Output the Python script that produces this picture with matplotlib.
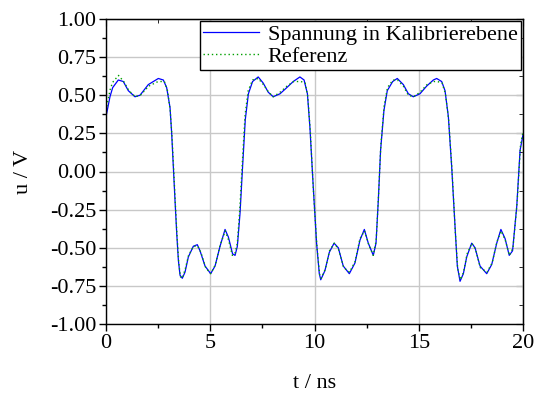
import numpy as np
import matplotlib
matplotlib.use("Agg")
import matplotlib.pyplot as plt
from matplotlib.ticker import MultipleLocator, FormatStrFormatter

plt.rcParams['font.family'] = ['Liberation Serif', 'DejaVu Serif']
plt.rcParams['axes.unicode_minus'] = False

# Spannung in Kalibrierebene (t in ns, u in V)
t_meas = [0.00, 0.06, 0.19, 0.32, 0.59, 0.83, 1.07, 1.39, 1.63, 2.03, 2.51, 2.75,
          2.91, 3.07, 3.15, 3.23, 3.31, 3.39, 3.47, 3.55, 3.66, 3.79, 3.95, 4.19,
          4.38, 4.51, 4.75, 5.02, 5.23, 5.47, 5.71, 5.87, 6.07, 6.19, 6.30, 6.43,
          6.55, 6.68, 6.83, 7.03, 7.30, 7.54, 7.78, 8.02, 8.35, 8.67, 8.98, 9.30,
          9.50, 9.66, 9.78, 9.94, 10.10, 10.23, 10.30, 10.50, 10.71, 10.94, 11.14,
          11.38, 11.67, 11.94, 12.18, 12.39, 12.58, 12.82, 12.95, 13.06, 13.17,
          13.33, 13.49, 13.75, 13.97, 14.26, 14.50, 14.74, 15.06, 15.38, 15.70,
          15.86, 16.10, 16.26, 16.42, 16.58, 16.74, 16.85, 16.98, 17.14, 17.30,
          17.54, 17.70, 17.94, 18.26, 18.50, 18.74, 18.94, 19.14, 19.34, 19.50,
          19.70, 19.86, 20.00]
u_meas = [0.36, 0.40, 0.49, 0.55, 0.60, 0.59, 0.53, 0.49, 0.50, 0.57, 0.61, 0.60,
          0.55, 0.42, 0.25, 0.03, -0.19, -0.40, -0.58, -0.68, -0.70, -0.66, -0.56, -0.49,
          -0.48, -0.52, -0.62, -0.67, -0.62, -0.49, -0.38, -0.43, -0.54, -0.55, -0.49, -0.27,
          0.03, 0.34, 0.51, 0.59, 0.62, 0.58, 0.52, 0.49, 0.51, 0.55, 0.59, 0.62,
          0.60, 0.51, 0.29, -0.10, -0.47, -0.67, -0.71, -0.65, -0.53, -0.47, -0.50,
          -0.62, -0.67, -0.60, -0.45, -0.38, -0.47, -0.55, -0.47, -0.19, 0.14,
          0.40, 0.53, 0.59, 0.61, 0.57, 0.51, 0.49, 0.51, 0.56, 0.60,
          0.61, 0.59, 0.53, 0.36, 0.03, -0.36, -0.62, -0.72, -0.67, -0.56,
          -0.47, -0.50, -0.62, -0.67, -0.61, -0.47, -0.38, -0.44, -0.55, -0.52,
          -0.23, 0.14, 0.24]

# Referenz
t_ref = [0.00, 0.10, 0.22, 0.35, 0.60, 0.85, 1.10, 1.40, 1.65, 2.05, 2.50, 2.80,
         2.95, 3.08, 3.17, 3.25, 3.33, 3.41, 3.49, 3.57, 3.66, 3.80, 3.96, 4.20,
         4.40, 4.55, 4.78, 5.02, 5.25, 5.48, 5.72, 5.88, 6.06, 6.18, 6.30, 6.42,
         6.54, 6.67, 6.82, 7.03, 7.30, 7.55, 7.80, 8.02, 8.35, 8.68, 9.00, 9.35,
         9.55, 9.68, 9.80, 9.95, 10.12, 10.25, 10.32, 10.52, 10.72, 10.95, 11.15,
         11.40, 11.68, 11.95, 12.18, 12.40, 12.60, 12.82, 12.96, 13.07, 13.18,
         13.34, 13.50, 13.76, 13.98, 14.26, 14.50, 14.75, 15.06, 15.40, 15.72,
         15.90, 16.12, 16.28, 16.44, 16.60, 16.75, 16.87, 17.00, 17.15, 17.32,
         17.55, 17.72, 17.95, 18.27, 18.52, 18.75, 18.95, 19.15, 19.35, 19.52,
         19.72, 19.88, 20.00]
u_ref = [0.40, 0.47, 0.55, 0.59, 0.63, 0.59, 0.53, 0.49, 0.50, 0.56, 0.59, 0.59,
         0.53, 0.40, 0.22, 0.00, -0.22, -0.43, -0.60, -0.69, -0.70, -0.64, -0.55, -0.49,
         -0.49, -0.53, -0.63, -0.67, -0.61, -0.48, -0.39, -0.45, -0.55, -0.54, -0.47, -0.24,
         0.06, 0.37, 0.53, 0.60, 0.61, 0.57, 0.52, 0.49, 0.52, 0.56, 0.59, 0.59,
         0.58, 0.49, 0.26, -0.13, -0.50, -0.68, -0.70, -0.64, -0.52, -0.47, -0.51,
         -0.63, -0.66, -0.59, -0.44, -0.39, -0.48, -0.55, -0.45, -0.16, 0.17,
         0.43, 0.55, 0.60, 0.60, 0.56, 0.50, 0.49, 0.52, 0.57, 0.59,
         0.59, 0.58, 0.51, 0.33, 0.00, -0.39, -0.64, -0.71, -0.66, -0.54,
         -0.47, -0.51, -0.63, -0.66, -0.60, -0.46, -0.39, -0.45, -0.55, -0.50,
         -0.20, 0.17, 0.26]

fs = 16

fig = plt.figure(figsize=(5.35, 3.94), dpi=100)
ax = fig.add_axes([106/535, 1 - 324/394, 417/535, 305/394])

ax.plot(t_meas, u_meas, color='#0000ff', lw=0.9, label='Spannung in Kalibrierebene')
ax.plot(t_ref, u_ref, color='#00a000', lw=1.0, ls=(0, (1, 2)), label='Referenz')

ax.set_xlim(0, 20)
ax.set_ylim(-1, 1)
ax.xaxis.set_major_locator(MultipleLocator(5))
ax.xaxis.set_minor_locator(MultipleLocator(2.5))
ax.yaxis.set_major_locator(MultipleLocator(0.25))
ax.yaxis.set_minor_locator(MultipleLocator(0.125))
ax.yaxis.set_major_formatter(FormatStrFormatter('%.2f'))
ax.grid(True, which='major', color='#c8c8c8', lw=1.0)
ax.set_axisbelow(True)

ax.tick_params(which='both', direction='out', labelsize=fs, top=False, right=False)
ax.tick_params(which='major', length=5, width=1, pad=2)
ax.tick_params(which='minor', length=3, width=1)
for side in ax.spines.values():
    side.set_linewidth(1.0)

# mirrored ticks pointing inward on top and right
sec_x = ax.secondary_xaxis('top')
sec_x.xaxis.set_major_locator(MultipleLocator(5))
sec_x.xaxis.set_minor_locator(MultipleLocator(2.5))
sec_x.tick_params(which='both', direction='in', labeltop=False)
sec_x.tick_params(which='major', length=5)
sec_x.tick_params(which='minor', length=3)
sec_y = ax.secondary_yaxis('right')
sec_y.yaxis.set_major_locator(MultipleLocator(0.25))
sec_y.yaxis.set_minor_locator(MultipleLocator(0.125))
sec_y.tick_params(which='both', direction='in', labelright=False)
sec_y.tick_params(which='major', length=5)
sec_y.tick_params(which='minor', length=3)

ax.set_xlabel('t / ns', fontsize=fs, labelpad=15)
ax.set_ylabel('u / V', fontsize=fs, labelpad=12)

leg = ax.legend(loc='upper right', fontsize=fs, fancybox=False, framealpha=1,
                edgecolor='black', borderaxespad=0.1, handlelength=2.5,
                borderpad=0.15, labelspacing=0.05, handletextpad=0.4)
leg.get_frame().set_linewidth(1.0)

fig.savefig('out.png', dpi=100)
